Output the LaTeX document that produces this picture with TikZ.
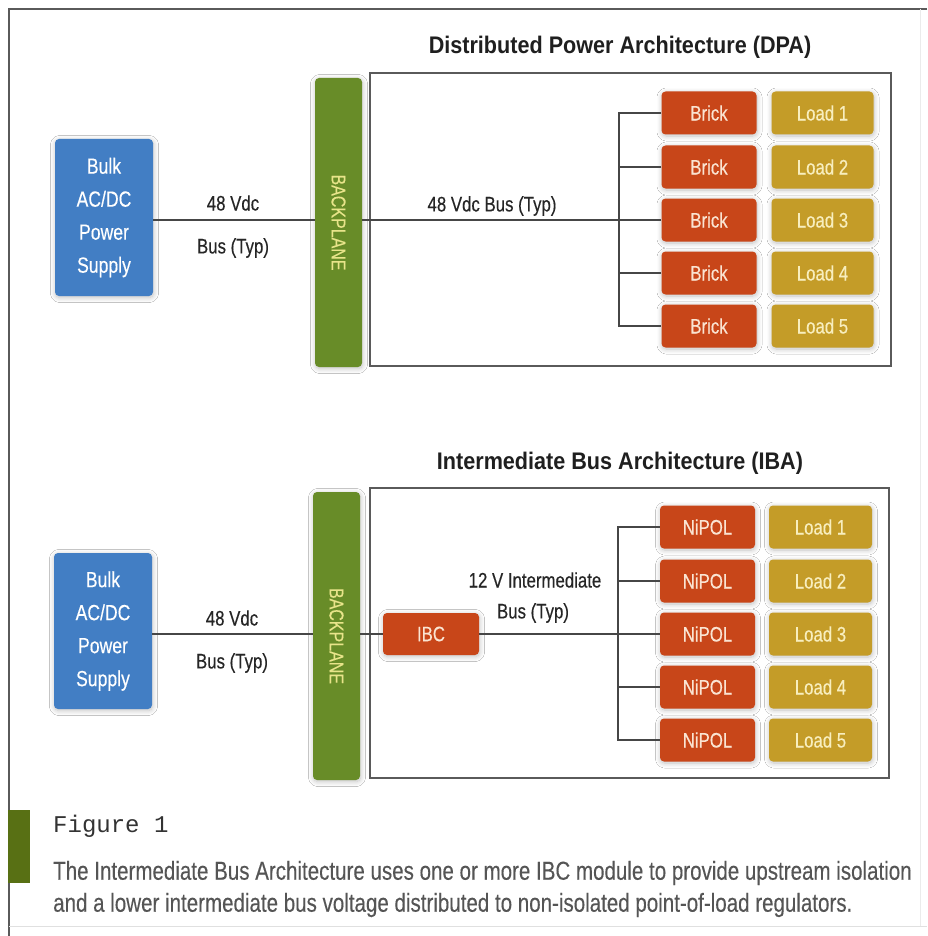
\documentclass[tikz,border=0pt]{standalone}
\usepackage{fontspec}
\usetikzlibrary{shadows.blur}

% Condensed sans faces for the diagram and caption
\newfontfamily\narrowfont{Liberation Sans}[FakeStretch=0.8, FakeBold=0.3]
\newfontfamily\headfont{Liberation Sans}[FakeStretch=0.9]
\newfontfamily\capfont{Liberation Sans}[FakeStretch=0.79, FakeBold=0.2]
\newfontfamily\figfont{Liberation Mono}

\definecolor{psblue}{RGB}{66,126,196}
\definecolor{bpgreen}{RGB}{104,140,40}
\definecolor{bptext}{RGB}{232,228,138}
\definecolor{brickred}{RGB}{200,70,25}
\definecolor{bricktext}{RGB}{250,228,210}
\definecolor{loadgold}{RGB}{196,156,40}
\definecolor{loadtext}{RGB}{248,238,190}
\definecolor{wiregray}{RGB}{70,70,70}
\definecolor{framegray}{RGB}{90,90,90}
\definecolor{captext}{RGB}{85,85,85}
\definecolor{barolive}{RGB}{88,112,20}

\begin{document}
\begin{tikzpicture}[x=1pt,y=-1pt,
  glow/.style={blur shadow={shadow xshift=0.5pt, shadow yshift=-1.5pt,
      shadow blur radius=5pt, shadow blur steps=8, shadow opacity=25}},
  supplybox/.style={glow, fill=psblue, rounded corners=4pt, minimum width=98pt,
      minimum height=157pt, inner sep=0pt, align=center, text=white,
      font=\narrowfont\fontsize{22}{33}\selectfont},
  bplane/.style={glow, fill=bpgreen, rounded corners=4pt, minimum width=47pt,
      minimum height=289pt, inner sep=0pt},
  bplabel/.style={rotate=-90, text=bptext, font=\narrowfont\fontsize{20}{22}\selectfont},
  brickbox/.style={glow, fill=brickred, rounded corners=4pt, minimum width=95pt,
      minimum height=43pt, inner sep=0pt, text=bricktext,
      font=\narrowfont\fontsize{21}{25}\selectfont},
  loadbox/.style={glow, fill=loadgold, rounded corners=4pt, minimum width=102pt,
      minimum height=43pt, inner sep=0pt, text=loadtext,
      font=\narrowfont\fontsize{21}{25}\selectfont},
  framebox/.style={draw=framegray, line width=1.3pt, inner sep=0pt},
  wire/.style={draw=wiregray, line width=1.2pt},
  buslabel/.style={text=black!85, inner sep=0pt,
      font=\narrowfont\fontsize{21}{25}\selectfont},
  titletext/.style={text=black!88, inner sep=0pt,
      font=\headfont\bfseries\fontsize{24}{28}\selectfont}
]
\useasboundingbox (0,0) rectangle (927,936);
\fill[white] (0,0) rectangle (927,936);

% page frame
\draw[framegray, line width=1.5pt] (927,9) -- (9,9) -- (9,936);
\draw[black!12, line width=1pt] (9,926) -- (927,926);
\draw[black!8, line width=1pt] (920,9) -- (920,926);

% ---------------- Distributed Power Architecture ----------------
\node[titletext] (dpatitle) at (620,47) {Distributed Power Architecture (DPA)};
\node[framebox, minimum width=521pt, minimum height=293pt] (dpa) at (630.5,219.5) {};
\node[supplybox] (bulkA) at (104,217.5) {Bulk\\AC/DC\\Power\\Supply};
\node[bplane] (bpA) at (338.5,222.5) {};
\node[bplabel] (bpAlabel) at (bpA) {BACKPLANE};

\foreach \i/\yy in {1/113,2/167,3/220,4/273,5/326}{
  \node[brickbox] (brick\i) at (709,\yy) {Brick};
  \node[loadbox] (loadA\i) at (822.5,\yy) {Load \i};
}
\coordinate (jA) at (619,220);

\draw[wire] (bulkA.east |- brick3.west) -- (bpA.west |- brick3.west);
\draw[wire] (bpA.east |- brick3.west) -- (brick3.west);
\draw[wire] (brick1.west) -- (brick1.west -| jA) -- (brick5.west -| jA) -- (brick5.west);
\draw[wire] (brick2.west) -- (brick2.west -| jA);
\draw[wire] (brick4.west) -- (brick4.west -| jA);

\node[buslabel] (lblA1) at (233,203) {48 Vdc};
\node[buslabel] (lblA2) at (233,248) {Bus (Typ)};
\node[buslabel] (lblA3) at (492,206) {48 Vdc Bus (Typ)};

% ---------------- Intermediate Bus Architecture ----------------
\node[titletext] (ibatitle) at (620,463) {Intermediate Bus Architecture (IBA)};
\node[framebox, minimum width=519pt, minimum height=290pt] (iba) at (629.5,633) {};
\node[supplybox, minimum height=156pt] (bulkB) at (103,631) {Bulk\\AC/DC\\Power\\Supply};
\node[bplane, minimum height=288pt] (bpB) at (336.5,636) {};
\node[bplabel] (bpBlabel) at (bpB) {BACKPLANE};
\node[brickbox, minimum width=96pt, minimum height=42pt] (ibc) at (431,634) {IBC};

\foreach \i/\yy in {1/527,2/581,3/634,4/687,5/740}{
  \node[brickbox] (nipol\i) at (707.5,\yy) {NiPOL};
  \node[loadbox, minimum width=103pt] (loadB\i) at (820.5,\yy) {Load \i};
}
\coordinate (jB) at (618,634);

\draw[wire] (bulkB.east |- nipol3.west) -- (bpB.west |- nipol3.west);
\draw[wire] (bpB.east |- ibc.west) -- (ibc.west);
\draw[wire] (ibc.east) -- (nipol3.west);
\draw[wire] (nipol1.west) -- (nipol1.west -| jB) -- (nipol5.west -| jB) -- (nipol5.west);
\draw[wire] (nipol2.west) -- (nipol2.west -| jB);
\draw[wire] (nipol4.west) -- (nipol4.west -| jB);

\node[buslabel] (lblB1) at (232,618) {48 Vdc};
\node[buslabel] (lblB2) at (232,663) {Bus (Typ)};
\node[buslabel] (lblB3) at (535,580) {12 V Intermediate};
\node[buslabel] (lblB4) at (533,613) {Bus (Typ)};

% ---------------- caption ----------------
\fill[barolive] (8,810) rectangle (30,883);
\node[anchor=west, inner sep=0pt, text=black!80,
      font=\figfont\fontsize{24}{26}\selectfont] (figlabel) at (53,826) {Figure 1};
\node[anchor=west, inner sep=0pt, align=left, text=captext,
      font=\capfont\fontsize{26}{32}\selectfont] (captiontext) at (53,889)
  {The Intermediate Bus Architecture uses one or more IBC module to provide upstream isolation\\
   and a lower intermediate bus voltage distributed to non-isolated point-of-load regulators.};
\end{tikzpicture}
\end{document}
